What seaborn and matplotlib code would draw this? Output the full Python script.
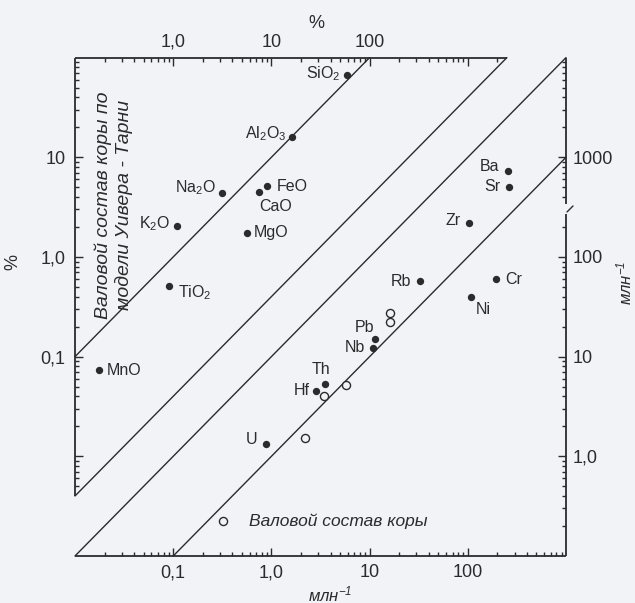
import numpy as np
import pandas as pd
import matplotlib
matplotlib.use("Agg")
import matplotlib.pyplot as plt
import seaborn as sns
from matplotlib.ticker import FixedLocator, FixedFormatter, NullFormatter

# ---- data -------------------------------------------------------------
# Major oxides, %: bulk crust (top axis) vs Weaver–Tarney model (left axis)
oxide_names = ["SiO$_2$", "Al$_2$O$_3$", "Na$_2$O", "FeO", "CaO", "MgO",
               "K$_2$O", "TiO$_2$", "MnO"]
oxide_bulk = [58.6, 16.2, 3.15, 9.1, 7.5, 5.6, 1.09, 0.90, 0.174]
oxide_model = [66.3, 16.1, 4.4, 5.1, 4.47, 1.74, 2.05, 0.51, 0.074]

# Trace elements, ppm: bulk crust (bottom axis) vs model (right axis)
trace_names = ["Ba", "Sr", "Zr", "Rb", "Cr", "Ni", "Pb", "Nb", "Th", "Hf", "U"]
trace_bulk = [254, 265, 102, 32.6, 194, 107, 11.4, 10.9, 3.5, 2.87, 0.875]
trace_model = [736, 508, 219, 56.9, 60.8, 39.6, 15.1, 12.3, 5.3, 4.5, 1.32]

# unlabelled trace elements (open circles), ppm
other_bulk = [16.0, 16.0, 5.7, 3.47, 2.22, 0.318]
other_model = [27.4, 22.3, 5.15, 4.0, 1.53, 0.225]

# axis ticks and labels
bottom_ticks = [0.1, 1, 10, 100]
bottom_labels = ["0,1", "1,0", "10", "100"]
right_ticks = [1, 10, 100, 1000]
right_labels = ["1,0", "10", "100", "1000"]
top_ticks = [1, 10, 100, 1000]
top_labels = ["1,0", "10", "100", ""]
left_ticks = [0.01, 0.1, 1, 10]
left_labels = ["", "0,1", "1,0", "10"]

# ---- scales -----------------------------------------------------------
XMIN, XMAX = 0.01, 1000.0      # ppm, bottom axis
YMIN, YMAX = 0.1, 1.0e4        # ppm, right axis
PCT_X = 0.1                    # top-axis % -> bottom-axis ppm position
PCT_Y = 100.0                  # left-axis % -> right-axis ppm position
# diagonals y = k*x : oxide 1:1, oxide field edge, trace field edge, trace 1:1
diag_k = [PCT_Y / PCT_X, 40.0, 10.0, 1.0]
right_gap = (270.0, 340.0)     # break in the right axis, ppm

INK = "#2b2b2d"
PAPER = "#f1f3f6"

sns.set_theme(style="white")
plt.rcParams["font.family"] = ["Liberation Sans", "DejaVu Sans"]
plt.rcParams["mathtext.fontset"] = "custom"
plt.rcParams["mathtext.rm"] = "Liberation Sans"
plt.rcParams["mathtext.it"] = "Liberation Sans:italic"
plt.rcParams["mathtext.default"] = "regular"

W, H = 635, 603
fig = plt.figure(figsize=(W / 100, H / 100), dpi=100, facecolor=PAPER)
ax = fig.add_axes([75 / W, 1 - 556 / H, (566 - 75) / W, (556 - 57.6) / H])
ax.set_facecolor(PAPER)
ax.set_xscale("log")
ax.set_yscale("log")
ax.set_xlim(XMIN, XMAX)
ax.set_ylim(YMIN, YMAX)
for s in ax.spines.values():
    s.set_visible(False)

lw_frame = 1.3
line_kw = dict(color=INK, lw=lw_frame, clip_on=False, solid_capstyle="butt")

# frame pieces: the oxide field (top + left) ends at the second diagonal
k_edge = diag_k[1]
ax.plot([XMIN, YMAX / k_edge], [YMAX, YMAX], **line_kw)
ax.plot([XMIN, XMIN], [YMAX, XMIN * k_edge], **line_kw)
ax.plot([XMIN, XMAX], [YMIN, YMIN], **line_kw)
ax.plot([XMAX, XMAX], [YMIN, right_gap[0]], **line_kw)
ax.plot([XMAX, XMAX], [right_gap[1], YMAX], **line_kw)

# diagonals clipped to the box
for k in diag_k:
    x0 = max(XMIN, YMIN / k)
    x1 = min(XMAX, YMAX / k)
    xs = np.array([x0, x1])
    ax.plot(xs, k * xs, color=INK, lw=1.0, clip_on=False)

# small slash across the axis break
gm = np.sqrt(right_gap[0] * right_gap[1])
bx, by = ax.transData.transform((XMAX, gm))
inv = fig.transFigure.inverted()
p0 = inv.transform((bx + 1, by - 3))
p1 = inv.transform((bx + 7, by + 3))
fig.add_artist(plt.Line2D([p0[0], p1[0]], [p0[1], p1[1]], color=INK, lw=1.0))

# ---- points -------------------------------------------------------------
ox = pd.DataFrame({"x": np.array(oxide_bulk) * PCT_X,
                   "y": np.array(oxide_model) * PCT_Y, "name": oxide_names})
tr = pd.DataFrame({"x": trace_bulk, "y": trace_model, "name": trace_names})
ot = pd.DataFrame({"x": other_bulk, "y": other_model})

pts = pd.concat([ox, tr], ignore_index=True)
sns.scatterplot(data=pts, x="x", y="y", ax=ax, color=INK, s=28,
                linewidth=0, legend=False, zorder=5, clip_on=False)
sns.scatterplot(data=ot, x="x", y="y", ax=ax, color=INK, s=34,
                linewidth=1.0, legend=False, zorder=5)
coll = ax.collections[-1]
coll.set_facecolor(PAPER)
coll.set_edgecolor(INK)
ax.set_xlabel("")
ax.set_ylabel("")

# label offsets in pixels (dx, dy up) and alignment
label_pos = {
    "SiO$_2$": (-6, 2, "right"), "Al$_2$O$_3$": (-6, 3, "right"),
    "Na$_2$O": (-6, 5, "right"), "FeO": (9, 0, "left"),
    "CaO": (0, -14, "left"), "MgO": (7, 0, "left"),
    "K$_2$O": (-7, 2, "right"), "TiO$_2$": (9, -7, "left"),
    "MnO": (8, -1, "left"),
    "Ba": (-8, 4, "right"), "Sr": (-9, 0, "right"), "Zr": (-8, 3, "right"),
    "Rb": (-9, 0, "right"), "Cr": (9, -1, "left"), "Ni": (5, -12, "left"),
    "Pb": (-1, 11, "right"), "Nb": (-8, 0, "right"), "Th": (-4, 15, "center"),
    "Hf": (-7, 1, "right"), "U": (-8, 5, "right"),
}
for _, r in pts.iterrows():
    dx, dy, ha = label_pos[r["name"]]
    ax.annotate(r["name"], (r["x"], r["y"]), xytext=(dx * 0.72, dy * 0.72),
                textcoords="offset points", ha=ha, va="center",
                fontsize=11.5, color=INK, zorder=6)

# ---- ticks ---------------------------------------------------------------
def minors(d0, d1, lo=0.0, hi=np.inf, skip=None):
    vals = [m * 10.0 ** d for d in range(d0, d1 + 1) for m in range(2, 10)]
    out = [v for v in vals if lo <= v <= hi]
    if skip is not None:
        out = [v for v in out if not (skip[0] <= v <= skip[1])]
    return out

tick_kw = dict(direction="in", color=INK, width=1.0)
lab_kw = dict(labelsize=13, labelcolor=INK)

ax.xaxis.set_major_locator(FixedLocator(bottom_ticks))
ax.xaxis.set_major_formatter(FixedFormatter(bottom_labels))
ax.xaxis.set_minor_locator(FixedLocator(minors(-2, 2)))
ax.xaxis.set_minor_formatter(NullFormatter())
ax.tick_params(axis="x", which="major", length=5.5, pad=6, bottom=True,
               top=False, **tick_kw, **lab_kw)
ax.tick_params(axis="x", which="minor", length=3.2, bottom=True, top=False,
               **tick_kw)

ax.yaxis.tick_right()
ax.yaxis.set_major_locator(FixedLocator(right_ticks))
ax.yaxis.set_major_formatter(FixedFormatter(right_labels))
ax.yaxis.set_minor_locator(FixedLocator(minors(-1, 3, skip=right_gap)))
ax.yaxis.set_minor_formatter(NullFormatter())
ax.tick_params(axis="y", which="major", length=5.5, pad=5, left=False,
               right=True, **tick_kw, **lab_kw)
ax.tick_params(axis="y", which="minor", length=3.2, left=False, right=True,
               **tick_kw)

top = ax.secondary_xaxis("top", functions=(lambda x: x / PCT_X,
                                           lambda p: p * PCT_X))
top.xaxis.set_major_locator(FixedLocator(top_ticks))
top.xaxis.set_major_formatter(FixedFormatter(top_labels))
top.xaxis.set_minor_locator(FixedLocator(
    minors(-1, 3, hi=YMAX / k_edge / PCT_X * 0.98)))
top.xaxis.set_minor_formatter(NullFormatter())
top.tick_params(which="major", length=5.5, pad=5, **tick_kw, **lab_kw)
top.tick_params(which="minor", length=3.2, **tick_kw)
for s in top.spines.values():
    s.set_visible(False)

left = ax.secondary_yaxis("left", functions=(lambda y: y / PCT_Y,
                                             lambda q: q * PCT_Y))
left.yaxis.set_major_locator(FixedLocator(left_ticks))
left.yaxis.set_major_formatter(FixedFormatter(left_labels))
left.yaxis.set_minor_locator(FixedLocator(
    minors(-3, 1, lo=XMIN * k_edge / PCT_Y * 1.02)))
left.yaxis.set_minor_formatter(NullFormatter())
left.tick_params(which="major", length=5.5, pad=7, **tick_kw, **lab_kw)
left.tick_params(which="minor", length=3.2, **tick_kw)
for s in left.spines.values():
    s.set_visible(False)

# ---- axis titles and field captions --------------------------------------
def fx(px):
    return px / W

def fy(py):
    return 1 - py / H

fig.text(fx(316), fy(24), "%", fontsize=13, color=INK, ha="center", va="center")
fig.text(fx(13), fy(262), "%", fontsize=13, color=INK, ha="center",
         va="center", rotation=90)
fig.text(fx(330), fy(594), "млн$^{-1}$", fontsize=12, color=INK,
         style="italic", ha="center", va="center")
fig.text(fx(624), fy(283), "млн$^{-1}$", fontsize=12, color=INK,
         style="italic", ha="center", va="center", rotation=90)

fig.text(fx(114), fy(205), "Валовой состав коры по\nмодели Уивера - Тарни",
         fontsize=14, color=INK, style="italic", ha="center", va="center",
         rotation=90, linespacing=1.2)
fig.text(fx(338), fy(521), "Валовой состав коры", fontsize=12.5, color=INK,
         style="italic", ha="center", va="center")

fig.savefig("out.png", dpi=100, facecolor=PAPER)
